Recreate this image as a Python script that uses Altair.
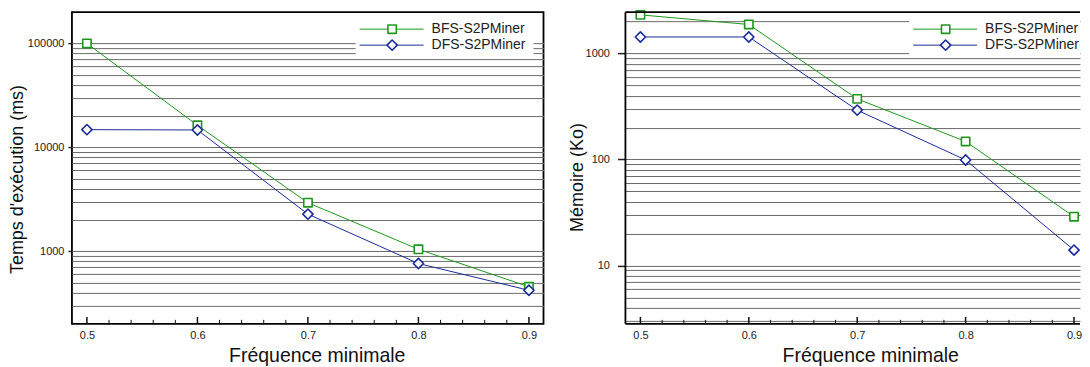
import altair as alt
import pandas as pd

# ---------------- data ----------------
freq = [0.5, 0.6, 0.7, 0.8, 0.9]
series = ["BFS-S2PMiner", "DFS-S2PMiner"]

time_bfs = [100000, 16300, 2930, 1045, 455]
time_dfs = [14800, 14700, 2275, 762, 421]

mem_bfs = [2310, 1875, 373, 148, 28.9]
mem_dfs = [1430, 1430, 292, 99, 14.0]

x_major = [0.5, 0.6, 0.7, 0.8, 0.9]
x_minor = [0.52, 0.54, 0.56, 0.58, 0.62, 0.64, 0.66, 0.68,
           0.72, 0.74, 0.76, 0.78, 0.82, 0.84, 0.86, 0.88]

time_grid = [300, 400, 500, 600, 700, 800, 900,
             1000, 2000, 3000, 4000, 5000, 6000, 7000, 8000, 9000,
             10000, 20000, 30000, 40000, 50000, 60000, 70000, 80000, 90000,
             100000]
time_labels = [1000, 10000, 100000]

mem_grid = [3, 4, 5, 6, 7, 8, 9, 10, 20, 30, 40, 50, 60, 70, 80, 90,
            100, 200, 300, 400, 500, 600, 700, 800, 900, 1000, 2000]
mem_labels = [10, 100, 1000]

# ---------------- style ----------------
GREEN = "#1f961f"
BLUE = "#1c2b99"
H = 312
FONT = "Liberation Sans"


def panel(v_bfs, v_dfs, ytitle, ydomain, grid_vals, label_vals,
          y_tick, y_lpad, y_title_x, y_title_y, width, px_per_unit, full_frame):
    df = pd.DataFrame({
        "freq": freq * 2,
        "value": v_bfs + v_dfs,
        "series": [series[0]] * len(freq) + [series[1]] * len(freq),
    })
    x0 = 0.5 - 15.0 / px_per_unit
    xscale = alt.Scale(domain=[x0, x0 + width / px_per_unit], nice=False, zero=False)
    yscale = alt.Scale(type="log", domain=ydomain, nice=False)
    test = " || ".join(f"datum.value == {v}" for v in label_vals)
    cscale = alt.Scale(domain=series, range=[GREEN, BLUE])

    xaxis = alt.Axis(values=x_major, format=".1f", ticks=False, grid=False,
                     domain=False, labelFontSize=11, labelPadding=6,
                     labelColor="#222", title="Fréquence minimale",
                     titleFontSize=19.5, titleFontWeight="normal",
                     titleColor="#111", titleX=245, titleY=23,
                     titleAlign="center", titleBaseline="top")
    yaxis = alt.Axis(values=grid_vals, format="d", grid=True,
                     gridColor="#6a6a6a", gridWidth=1, domain=False,
                     labelExpr=f"({test}) ? datum.label : ''",
                     labelFontSize=11, labelColor="#222",
                     labelPadding=y_lpad, tickSize=y_tick, tickWidth=1.5,
                     tickColor="#222",
                     tickOpacity={"condition": {"test": test, "value": 1}, "value": 0},
                     title=ytitle, titleFontSize=18, titleFontWeight="normal",
                     titleColor="#111", titleX=y_title_x, titleY=y_title_y,
                     titleAngle=270, titleAlign="center", titleBaseline="middle")

    base = alt.Chart(df)
    lines = base.mark_line(strokeWidth=1, clip=True).encode(
        x=alt.X("freq:Q", scale=xscale, axis=xaxis),
        y=alt.Y("value:Q", scale=yscale, axis=yaxis),
        color=alt.Color("series:N", scale=cscale, legend=None),
    )
    points = base.mark_point(filled=True, fill="white", strokeWidth=1.6, opacity=1,
                             strokeJoin="round").encode(
        x=alt.X("freq:Q", scale=xscale),
        y=alt.Y("value:Q", scale=yscale),
        stroke=alt.Stroke("series:N", scale=cscale, legend=None),
        shape=alt.Shape("series:N", scale=alt.Scale(domain=series, range=["square", "diamond"]), legend=None),
        size=alt.Size("series:N", scale=alt.Scale(domain=series, range=[70, 105]), legend=None),
    )
    tmaj = alt.Chart(pd.DataFrame({"freq": x_major})).mark_rule(color="#111", strokeWidth=1.5).encode(
        x=alt.X("freq:Q", scale=xscale), y=alt.value(H), y2=alt.value(H - 7))
    tmin = alt.Chart(pd.DataFrame({"freq": x_minor})).mark_rule(color="#111", strokeWidth=1).encode(
        x=alt.X("freq:Q", scale=xscale), y=alt.value(H), y2=alt.value(H - 4))

    one = pd.DataFrame({"k": [0]})
    layers = [lines, tmaj, tmin, points]

    # frame (the right-hand panel runs off the page, so no right edge)
    if not full_frame:
        fr = dict(color="#000", strokeWidth=1.8)
        layers.append(alt.Chart(one).mark_rule(**fr).encode(
            x=alt.value(0), x2=alt.value(width), y=alt.value(0)))
        layers.append(alt.Chart(one).mark_rule(**fr).encode(
            x=alt.value(0), x2=alt.value(width), y=alt.value(H)))
        layers.append(alt.Chart(one).mark_rule(**fr).encode(
            x=alt.value(0), y=alt.value(0), y2=alt.value(H)))

    # in-plot legend
    box = alt.Chart(one).mark_rect(fill="white").encode(
        x=alt.value(284), x2=alt.value(min(462, width)), y=alt.value(3), y2=alt.value(44))
    layers.append(box)
    rows = [17, 33]
    shapes = ["square", "diamond"]
    sizes = [70, 105]
    colors = [GREEN, BLUE]
    for i, s in enumerate(series):
        sd = pd.DataFrame({"series": [s]})
        layers.append(alt.Chart(sd).mark_rule(color=colors[i], strokeWidth=1).encode(
            x=alt.value(288), x2=alt.value(352), y=alt.value(rows[i])))
        layers.append(alt.Chart(sd).mark_point(shape=shapes[i], size=sizes[i], filled=True,
                                               fill="white", stroke=colors[i], strokeWidth=1.6,
                                               opacity=1, strokeJoin="round").encode(
            x=alt.value(320.5), y=alt.value(rows[i])))
        layers.append(alt.Chart(sd).mark_text(align="left", baseline="middle", fontSize=14,
                                              font=FONT, color="#222").encode(
            x=alt.value(360), y=alt.value(rows[i]), text="series:N"))

    ch = alt.layer(*layers).properties(width=width, height=H)
    if not full_frame:
        ch = ch.properties(view=alt.ViewBackground(strokeOpacity=0))
    return ch


left = panel(time_bfs, time_dfs, "Temps d'exécution (ms)", [200, 200000],
             time_grid, time_labels, 4, 4, -54, 167, 472, 1106.0, True)
right = panel(mem_bfs, mem_dfs, "Mémoire (Ko)", [2.82, 2450],
              mem_grid, mem_labels, 8, 8, -48, 165, 455, 1085.0, False)

chart = alt.hconcat(left, right, spacing=24).properties(
    padding={"left": 0, "top": 1, "right": 0, "bottom": 0}
).configure(font=FONT).configure_view(stroke="#000", strokeWidth=1.8)

chart.save("out.html", embed_options={"renderer": "svg", "actions": False})
